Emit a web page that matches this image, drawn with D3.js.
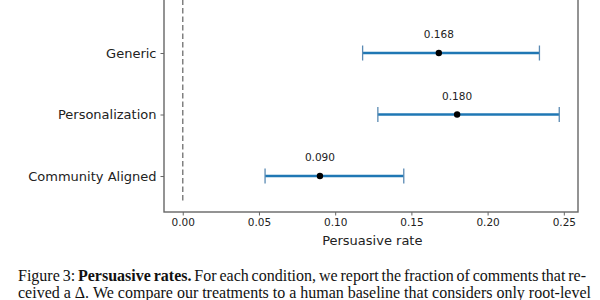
<!DOCTYPE html>
<html>
<head>
<meta charset="utf-8">
<script src="https://cdn.jsdelivr.net/npm/d3@7"></script>
<style>
  body { margin: 0; background: #fff; }
  svg { display: block; }
</style>
</head>
<body>
<svg id="chart" width="600" height="300"></svg>
<script>
// conditions from bottom to top
const categories = ["Community Aligned", "Personalization", "Generic"];
const rates = [0.090, 0.180, 0.168];
const lower = [0.054, 0.128, 0.118];
const upper = [0.145, 0.247, 0.234];
const rateLabels = ["0.090", "0.180", "0.168"];
const xTicks = [0, 0.05, 0.10, 0.15, 0.20, 0.25];
const baseline = 0;

const captionLine1 = [
    {text: "Figure 3: ", bold: false},
    {text: "Persuasive rates.", bold: true},
    {text: " For each condition, we report the fraction of comments that re-", bold: false}
];
const captionLine2 = "ceived a \u0394. We compare our treatments to a human baseline that considers only root-level";

const svg = d3.select("#chart");
const plotLeft = 164, plotRight = 578, plotBottom = 212, plotTop = -20;

const x = d3.scaleLinear().domain([-0.0123, 0.2593]).range([plotLeft, plotRight]);
const y = d3.scaleLinear().domain([-0.585, 3.187]).range([plotBottom, plotTop]);

// baseline at zero
svg.append("line")
    .attr("x1", x(baseline)).attr("x2", x(baseline))
    .attr("y1", y(-0.4)).attr("y2", y(3.187))
    .attr("stroke", "#808080")
    .attr("stroke-width", 1.5)
    .attr("stroke-dasharray", "5.5,3");

const g = svg.append("g").selectAll("g")
    .data(categories.map((c, i) => ({c, i, r: rates[i], lo: lower[i], hi: upper[i], lab: rateLabels[i]})))
    .join("g");

g.append("line")
    .attr("x1", d => x(d.lo)).attr("x2", d => x(d.hi))
    .attr("y1", d => y(d.i)).attr("y2", d => y(d.i))
    .attr("stroke", "#1f77b4").attr("stroke-width", 2.3);

g.selectAll(".cap").data(d => [[d.lo, d.i], [d.hi, d.i]]).join("line")
    .attr("x1", d => x(d[0])).attr("x2", d => x(d[0]))
    .attr("y1", d => y(d[1]) - 7.5).attr("y2", d => y(d[1]) + 7.5)
    .attr("stroke", "#5a8ab3").attr("stroke-width", 1.3);

g.append("circle")
    .attr("cx", d => x(d.r)).attr("cy", d => y(d.i))
    .attr("r", 3.2).attr("fill", "#000");

g.append("text")
    .attr("x", d => x(d.r)).attr("y", d => y(d.i) - 15)
    .attr("text-anchor", "middle")
    .attr("font-family", "DejaVu Sans")
    .attr("font-size", 10.5)
    .attr("fill", "#222")
    .text(d => d.lab);

// frame
svg.append("rect")
    .attr("x", plotLeft).attr("y", plotTop)
    .attr("width", plotRight - plotLeft).attr("height", plotBottom - plotTop)
    .attr("fill", "none").attr("stroke", "#666").attr("stroke-width", 1.4);

const xAxis = svg.append("g")
    .attr("transform", `translate(0,${plotBottom})`)
    .call(d3.axisBottom(x).tickValues(xTicks).tickFormat(d3.format(".2f")).tickSize(3.5).tickPadding(3.5));
xAxis.select(".domain").remove();
xAxis.selectAll("line").attr("stroke", "#666");
xAxis.selectAll("text").attr("font-family", "DejaVu Sans").attr("font-size", 10.5).attr("fill", "#222");

const yAxis = svg.append("g")
    .attr("transform", `translate(${plotLeft},0)`)
    .call(d3.axisLeft(y).tickValues([0, 1, 2]).tickFormat(i => categories[i]).tickSize(3.5).tickPadding(4));
yAxis.select(".domain").remove();
yAxis.selectAll("line").attr("stroke", "#666");
yAxis.selectAll("text").attr("font-family", "DejaVu Sans").attr("font-size", 13).attr("fill", "#222");

svg.append("text")
    .attr("x", (x(0) + x(0.25)) / 2 - 1).attr("y", 245)
    .attr("text-anchor", "middle")
    .attr("font-family", "DejaVu Sans")
    .attr("font-size", 13)
    .attr("fill", "#222")
    .text("Persuasive rate");

// caption, justified
function justify(textSel, x0, x1) {
    const n = textSel.text().split(" ").length - 1;
    const w = textSel.node().getComputedTextLength();
    textSel.style("word-spacing", ((x1 - x0 - w) / n) + "px");
}

const c1 = svg.append("text")
    .attr("x", 18).attr("y", 280.5)
    .attr("font-family", "Liberation Serif")
    .attr("font-size", 16)
    .attr("fill", "#111");
captionLine1.forEach(p => {
    c1.append("tspan").attr("font-weight", p.bold ? "bold" : "normal").text(p.text);
});
justify(c1, 18, 586);

const c2 = svg.append("text")
    .attr("x", 18).attr("y", 298)
    .attr("font-family", "Liberation Serif")
    .attr("font-size", 16)
    .attr("fill", "#111")
    .text(captionLine2);
justify(c2, 18, 591);
</script>
</body>
</html>
